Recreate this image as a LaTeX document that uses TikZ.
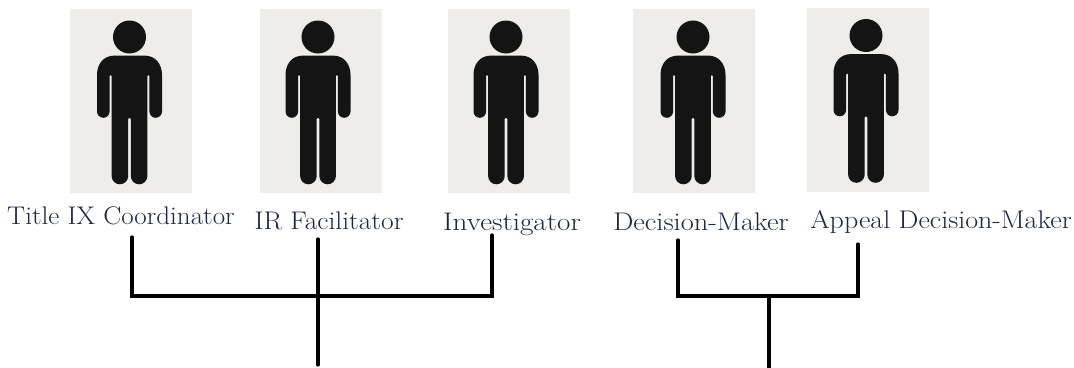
\documentclass[tikz,border=0pt]{standalone}
\usepackage{xcolor}
\definecolor{card}{HTML}{EFEDE9}
\definecolor{figure}{HTML}{141414}
\definecolor{labelink}{HTML}{1E2545}
\tikzset{
  x=1pt,y=-1pt,
  cardbox/.style={fill=card,draw=none,minimum width=122pt,minimum height=184pt,inner sep=0pt,outer sep=0pt},
  rolelabel/.style={text=labelink,font=\fontsize{25.5}{30}\selectfont,inner sep=0pt,anchor=base,transform shape},
  linkline/.style={line width=3.2pt,black,line cap=round},
  pics/person/.style={code={
    \fill[figure] (0,37) circle[radius=16.5];
    \fill[figure]
      (-15,55.6) -- (15,55.6)
      .. controls (26,55.6) and (32.5,64) .. (32.5,75)
      -- (32.5,111.5) arc[start angle=0,end angle=180,radius=6.3]
      -- (19.9,76) arc[start angle=0,end angle=-180,radius=1]
      -- (17.9,176) arc[start angle=0,end angle=180,radius=8.3]
      -- (1.3,119) arc[start angle=0,end angle=-180,radius=1.3]
      -- (-1.3,176) arc[start angle=0,end angle=180,radius=8.3]
      -- (-17.9,76) arc[start angle=0,end angle=-180,radius=1]
      -- (-19.9,111.5) arc[start angle=0,end angle=180,radius=6.3]
      -- (-32.5,75)
      .. controls (-32.5,64) and (-26,55.6) .. (-15,55.6) -- cycle;
  }}
}
\begin{document}
\begin{tikzpicture}
\useasboundingbox (0,0) rectangle (1074,367);
\node[cardbox] (c1) at (131,101) {};
\node[cardbox] (c2) at (321,101) {};
\node[cardbox] (c3) at (509,101) {};
\node[cardbox] (c4) at (694,101) {};
\node[cardbox] (c5) at (868,99.5) {};
\pic at (129.5,0) {person};
\pic at (318,0) {person};
\pic at (506,0) {person};
\pic at (693,0) {person};
\pic at (866,-1.5) {person};
\node[rolelabel,xscale=1.06] (t1) at (121,224.5) {Title IX Coordinator};
\node[rolelabel,xscale=1.076] (t2) at (329,229) {IR Facilitator};
\node[rolelabel,xscale=1.142] (t3) at (512,230) {Investigator};
\node[rolelabel,xscale=1.114] (t4) at (701,230) {Decision-Maker};
\node[rolelabel,xscale=1.098] (t5) at (941,228) {Appeal Decision-Maker};
\coordinate (a1) at (132,237);
\coordinate (a2) at (318,239);
\coordinate (a3) at (492,235);
\coordinate (b1) at (132,296);
\coordinate (b2) at (318,296);
\coordinate (b3) at (492,296);
\coordinate (e1) at (318,365);
\coordinate (d1) at (678,240);
\coordinate (d2) at (858,244);
\coordinate (f1) at (678,296);
\coordinate (f2) at (858,296);
\coordinate (f3) at (769,296);
\coordinate (e2) at (769,368);
\draw[linkline] (a1) -- (b1) -- (b3) -- (a3);
\draw[linkline] (a2) -- (e1);
\draw[linkline] (d1) -- (f1) -- (f2) -- (d2);
\draw[linkline] (f3) -- (e2);
\end{tikzpicture}
\end{document}
